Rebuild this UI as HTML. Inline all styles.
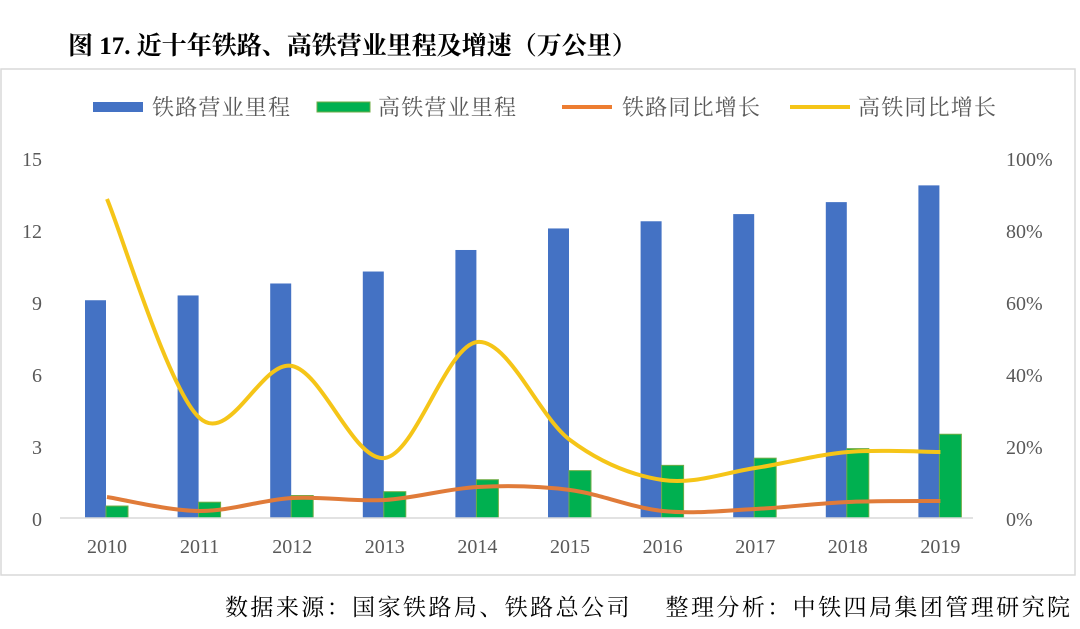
<!DOCTYPE html>
<html><head><meta charset="utf-8"><style>
body{margin:0;background:#fff;width:1080px;height:629px;overflow:hidden}
svg{display:block}
</style></head><body>
<svg id="s" width="1080" height="629" xmlns="http://www.w3.org/2000/svg">
<text x="68" y="54" font-family="'Liberation Serif','Noto Serif CJK SC',serif" font-weight="bold" font-size="25" fill="#000">图 17. 近十年铁路、高铁营业里程及增速（万公里）</text>
<rect x="1" y="69" width="1074" height="506" fill="#fff" stroke="#d9d9d9" stroke-width="1.5"/>
<g font-family="'Liberation Serif','Noto Serif CJK SC',serif" font-size="22" fill="#595959">
<rect x="93" y="102" width="50" height="10" fill="#4472c4"/><text x="152" y="115" textLength="138">铁路营业里程</text>
<rect x="317" y="102" width="53" height="10" fill="#00b050" stroke="#70ad47"/><text x="378" y="115" textLength="138">高铁营业里程</text>
<line x1="562" y1="107" x2="612" y2="107" stroke="#ed7d31" stroke-width="4"/><text x="622" y="115" textLength="138">铁路同比增长</text>
<line x1="790" y1="107" x2="850" y2="107" stroke="#f5c518" stroke-width="4"/><text x="858" y="115" textLength="138">高铁同比增长</text>
</g>
<g font-family="'Liberation Serif',serif" font-size="20" fill="#595959">
<g text-anchor="end">
<text x="42" y="166">15</text><text x="42" y="238">12</text><text x="42" y="310">9</text><text x="42" y="382">6</text><text x="42" y="454">3</text><text x="42" y="526">0</text>
</g>
<text x="1006" y="166">100%</text><text x="1006" y="238">80%</text><text x="1006" y="310">60%</text><text x="1006" y="382">40%</text><text x="1006" y="454">20%</text><text x="1006" y="526">0%</text>
<g id="xl" text-anchor="middle"></g>
</g>
<g id="bars"></g>
<line x1="60" y1="518" x2="973" y2="518" stroke="#d9d9d9" stroke-width="1.5"/>
<path id="po" fill="none" stroke="#e07b39" stroke-width="4"/>
<path id="py" fill="none" stroke="#f5c518" stroke-width="4"/>
<text x="225" y="615" textLength="845" font-family="'Liberation Serif','Noto Serif CJK SC',serif" font-size="23" fill="#000">数据来源：国家铁路局、铁路总公司　 整理分析：中铁四局集团管理研究院</text>
</svg>
<script>
var ns="http://www.w3.org/2000/svg";
var blue=[9.1,9.3,9.8,10.3,11.2,12.1,12.4,12.7,13.2,13.9];
var green=[0.5,0.66,0.94,1.1,1.6,1.98,2.2,2.5,2.9,3.5];
var yy=[199,418,366,458,342,440,480,468,452,452];
var oy=[497,511,498,500,487,490,511,509,502,501];
var bars=document.getElementById('bars'),xl=document.getElementById('xl');
function el(t,a,p){var e=document.createElementNS(ns,t);for(var k in a)e.setAttribute(k,a[k]);p.appendChild(e);return e;}
var cx=[];
for(var i=0;i<10;i++){
 var c=107+i*92.6;cx.push(c);
 var hb=blue[i]*23.93,hg=green[i]*23.93;
 el('rect',{x:c-22,y:518-hb,width:21,height:hb,fill:'#4472c4'},bars);
 el('rect',{x:c-1,y:518-hg,width:22,height:hg,fill:'#00b050',stroke:'#70ad47','stroke-width':1},bars);
 var t=el('text',{x:c,y:553},xl);t.textContent=String(2010+i);
}
function smooth(ys){
 var p=cx.map(function(x,i){return [x,ys[i]]});
 var d='M'+p[0][0]+','+p[0][1];
 for(var i=0;i<p.length-1;i++){
  var p0=p[i-1]||p[i],p1=p[i],p2=p[i+1],p3=p[i+2]||p2;
  var c1=[p1[0]+(p2[0]-p0[0])/6,p1[1]+(p2[1]-p0[1])/6];
  var c2=[p2[0]-(p3[0]-p1[0])/6,p2[1]-(p3[1]-p1[1])/6];
  d+=' C'+c1+' '+c2+' '+p2;
 }
 return d;
}
document.getElementById('po').setAttribute('d',smooth(oy));
document.getElementById('py').setAttribute('d',smooth(yy));
</script>
</body></html>
